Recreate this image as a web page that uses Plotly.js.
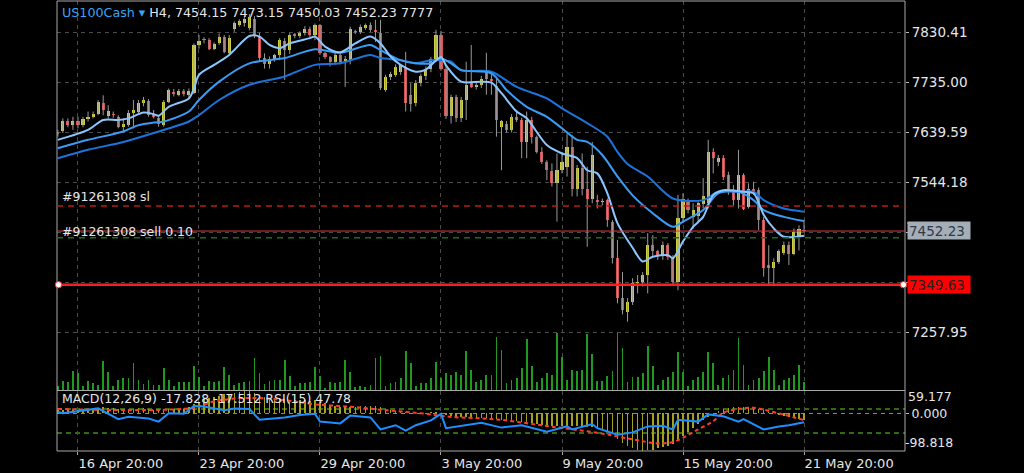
<!DOCTYPE html>
<html><head><meta charset="utf-8">
<script src="https://cdn.plot.ly/plotly-3.0.1.min.js"></script>
<style>html,body{margin:0;padding:0;background:#000;}#chart{width:1024px;height:473px;}</style>
</head><body><div id="chart"></div>
<script>
// ---------- DATA ----------
const symbol = 'US100Cash';
const timeframe = 'H4';
const opens = [7640,7642,7661,7654,7661,7654,7666,7670,7676,7697,7672,7675,7670,7651,7655,7678,7680,7696,7700,7675,
7668,7654,7698,7718,7712,7719,7712,7715,7807,7818,7816,7800,7810,7823,7791,7838,7846,7848,7840,7856,
7825,7782,7770,7781,7788,7814,7798,7826,7824,7829,7838,7826,7845,7791,7784,7775,7788,7776,7776,7834,
7832,7840,7845,7836,7830,7722,7745,7750,7756,7765,7712,7696,7735,7748,7762,7780,7826,7762,7672,7708,
7667,7702,7734,7727,7730,7756,7743,7728,7651,7657,7645,7670,7664,7622,7664,7632,7603,7584,7566,7543,
7568,7574,7613,7533,7572,7533,7514,7511,7508,7511,7470,7400,7324,7298,7317,7352,7355,7368,7425,7413,
7407,7425,7403,7355,7476,7508,7478,7480,7503,7505,7603,7584,7591,7559,7530,7511,7559,7498,7533,7530,
7473,7387,7382,7393,7411,7425,7409,7441,7454.15];
const highs = [7645,7667,7667,7670,7670,7670,7680,7680,7702,7711,7692,7680,7673,7667,7683,7702,7702,7708,7704,7683,
7673,7702,7724,7723,7723,7723,7724,7810,7826,7822,7820,7812,7829,7826,7826,7852,7856,7862,7866,7862,
7830,7791,7785,7790,7820,7820,7830,7830,7833,7843,7842,7848,7847,7794,7786,7792,7792,7786,7842,7836,
7846,7848,7850,7855,7855,7750,7756,7770,7770,7794,7734,7740,7752,7766,7784,7836,7834,7768,7712,7712,
7708,7775,7807,7735,7748,7792,7756,7745,7664,7662,7675,7683,7668,7680,7670,7634,7612,7587,7581,7600,
7603,7638,7635,7578,7600,7575,7622,7521,7514,7514,7473,7435,7374,7324,7362,7368,7374,7448,7444,7416,
7432,7429,7406,7521,7524,7514,7505,7508,7553,7626,7610,7597,7597,7565,7540,7607,7562,7543,7546,7535,
7479,7425,7400,7417,7432,7432,7457,7463,7473.15];
const lows = [7632,7639,7650,7645,7648,7650,7661,7667,7673,7673,7667,7668,7648,7642,7651,7648,7676,7690,7670,7667,
7651,7651,7696,7709,7709,7709,7706,7713,7800,7810,7797,7797,7807,7791,7788,7832,7842,7842,7835,7820,
7776,7762,7762,7775,7778,7740,7790,7820,7820,7825,7822,7816,7788,7780,7766,7770,7770,7727,7770,7828,
7828,7836,7832,7813,7721,7718,7740,7746,7750,7680,7680,7690,7728,7740,7755,7775,7758,7666,7657,7660,
7660,7664,7725,7722,7725,7712,7712,7632,7568,7640,7640,7660,7591,7591,7619,7600,7580,7549,7537,7470,
7562,7556,7518,7518,7520,7422,7505,7495,7501,7460,7390,7314,7293,7279,7311,7333,7346,7333,7403,7397,
7397,7397,7349,7339,7467,7486,7456,7467,7495,7495,7562,7576,7549,7521,7501,7495,7492,7495,7521,7454,
7365,7349,7349,7389,7406,7387,7406,7415,7450.03];
const closes = [7638,7661,7655,7662,7654,7666,7670,7675,7698,7683,7681,7673,7651,7657,7678,7683,7696,7702,7673,7670,
7656,7698,7721,7713,7719,7713,7719,7807,7815,7816,7800,7808,7823,7794,7821,7848,7852,7856,7860,7825,
7782,7770,7781,7788,7816,7798,7826,7825,7829,7838,7826,7845,7791,7785,7775,7788,7775,7780,7838,7832,
7842,7845,7836,7832,7724,7745,7752,7765,7768,7697,7694,7735,7748,7762,7780,7826,7762,7672,7708,7667,
7702,7731,7727,7730,7743,7743,7738,7664,7661,7645,7670,7664,7622,7664,7632,7603,7584,7568,7543,7568,
7584,7613,7533,7572,7533,7514,7597,7508,7510,7473,7400,7324,7301,7317,7352,7355,7368,7425,7413,7407,
7425,7403,7355,7476,7514,7492,7492,7505,7518,7603,7591,7591,7556,7533,7511,7559,7495,7533,7527,7473,
7381,7381,7393,7413,7425,7409,7451,7455,7452.23];
const volumes = [4000,8100,7200,17500,15900,3400,8100,6200,5000,27100,16500,3400,9400,10900,10900,25000,9700,5600,9700,5000,
4700,20300,9700,4100,7200,7200,7200,22200,11900,3400,8100,7200,8100,21200,14400,5000,6200,7200,8100,29600,
15900,5600,8100,9400,9400,28400,12800,3400,6200,6200,7200,21200,12800,1900,7200,6200,7200,28400,16500,2500,
3400,2500,4700,29600,31500,3400,6200,7200,10900,36500,25000,3400,6200,6200,10900,25900,10900,15600,14400,16500,
14400,36500,19000,7200,9700,14400,14400,49900,37800,6200,9700,10900,20300,47400,22500,7200,10900,15600,14400,53400,
30600,9700,19000,17500,19000,52100,33400,8100,8100,12800,17500,53400,39000,7200,11900,11900,15600,41500,22500,5000,
9700,11900,16500,35300,16500,3400,9700,11900,16500,35300,25000,5000,10900,14400,19000,48400,23700,4700,9700,10900,
17500,30600,19000,5000,9700,10900,14400,23700,7777];
const macdMain = [10,9,8,9,10,11,12,13,15,16,15,14,13,12,12,13,14,14,12,10,9,9,11,12,12,12,
16,24,31,37,41,44,47,50,51,54,57,59.177,58,
54,48,44,41,40,40,37,36,35,35,35,34,
35,31,27,23,20,18,17,17,18,19,20,21,21,
16,12,9,7,6,4,2,1,1,2,3,
4,0,-4,-7,-9,-10,-10,-10,-11,-11,-12,-13,
-14,-16,-17,-19,-20,-22,-24,-26,-28,-30,-31,-32,-33,-33,-33,-34,-34,-35,-36,-36,-37,-40,-46,-55,
-66,-77,-86,-92,-96,-98.818,-97,-95,-92,-89,-85,-80,-73,-60,
-48,-38,-28,-18,-8,0,6,11,15,17,18,18,17,15,12,
8,4,0,-3,-6,-9,-12,-15,-17.828];
const signalBars = [0,27,31,38,45,51,58,64,71,78,84,88,97,107,114,119,122,124,127,130,132,135,138,140,144,148];
const signalVals = [12,15,32,41,35,24,18,10,2,-9,-13,-17,-33,-51,-68,-79,-75,-64,-42,-20,2,12,15,10,-3,-17.512];
const rsiBars = [0,1,8,12,14,18,20,22,25,27,29,33,35,38,40,45,48,51,52,56,58,62,64,67,69,71,74,76,77,81,84,87,88,92,94,97,101,102,106,107,111,114,117,120,122,123,127,129,132,135,136,140,143,145,148];
const rsiVals = [65,63,71,53,57,54,49,63,62,75,74,68,71,70,52,56,60,62,49,46,59,56,36,43,34,43,51,62,38,43,47,41,39,43,39,32,41,36,45,38,27,31,41,42,36,52,49,61,58,49,53,36,41,43,47.78];
const maFastBars = [0,6,9,12,14,17,19,20,22,26,27,28,31,34,38,40,42,44,46,50,51,53,56,59,62,64,66,68,71,73,76,77,80,84,86,88,91,93,97,100,103,105,107,109,111,114,116,118,121,122,124,126,128,130,132,136,138,140,142,144,148];
const maFastVals = [7626,7645,7664,7664,7667,7678,7675,7672,7689,7705,7724,7750,7769,7788,7824,7823,7807,7801,7810,7820,7823,7804,7793,7810,7823,7810,7785,7769,7756,7760,7784,7768,7737,7737,7735,7715,7680,7667,7616,7600,7591,7568,7562,7524,7467,7420,7394,7403,7406,7400,7432,7460,7479,7521,7530,7527,7524,7483,7457,7441,7443];
const maMidBars = [0,6,13,16,19,21,26,28,32,38,45,51,56,62,64,68,71,74,76,78,80,86,89,93,97,100,103,105,108,111,114,118,122,124,128,131,135,138,140,144,148];
const maMidVals = [7610,7626,7642,7654,7659,7661,7680,7702,7737,7772,7782,7799,7792,7807,7797,7778,7772,7772,7781,7772,7759,7753,7721,7689,7670,7648,7626,7622,7597,7556,7520,7486,7460,7470,7492,7524,7527,7511,7492,7479,7471];
const maSlowBars = [0,6,13,19,26,28,32,38,45,51,56,62,64,68,71,74,76,78,80,86,91,97,100,105,109,111,113,117,122,128,131,135,138,140,144,148];
const maSlowVals = [7591,7607,7622,7639,7661,7673,7702,7731,7747,7769,7772,7788,7782,7778,7772,7778,7778,7775,7759,7756,7727,7705,7686,7658,7632,7603,7580,7556,7514,7511,7527,7527,7527,7511,7495,7489];
const tickBars = [4,28,52,76,100,124,148];
const tickLabels = ['16 Apr 20:00','23 Apr 20:00','29 Apr 20:00','3 May 20:00','9 May 20:00','15 May 20:00','21 May 20:00'];
const priceTicks = [7830.41,7735.00,7639.59,7544.18,7448.77,7353.36,7257.95];
const coveredTicks = [7448.77,7353.36];
const orderId = '#91261308';
const slPrice = 7500;
const orderPrice = 7452;
const greenLevel = 7439;
const bidPrice = 7452.23;
const lineLevel = 7349.63;
const macdMax = 59.177, macdMin = -98.818;
const rsiLevels = [70,30];
const rsiPeriod = 15;
const macdParams = [12,26,9];

// ---------- LAYOUT HELPERS ----------
const W = 1024, H = 473, ML = 57, MR = 119, MT = 1, MB = 22;
const PW = W - ML - MR, PH = H - MT - MB;
const px = x => (x - ML) / PW;
const py = y => (H - MB - y) / PH;
const FONT = 'DejaVu Sans, Liberation Sans, sans-serif';
const TXT = '#e6e6e6';
const GRID = '#4a4a4a';
const n = closes.length;
const idx = closes.map((_, i) => i);
const last = n - 1;

const bullCol = '#cfcf3e', bearCol = '#d65252';
const bodyBase = idx.map(i => Math.min(opens[i], closes[i]));
const bodyLen = idx.map(i => Math.max(Math.abs(closes[i] - opens[i]), 2));
const bodyCol = idx.map(i => closes[i] >= opens[i] ? bullCol : bearCol);

const traces = [
  { type:'bar', x: idx, y: volumes, yaxis:'y2', width:0.35, marker:{color:'#1f9a1f', line:{width:0}}, hoverinfo:'skip' },
  { type:'ohlc', x: idx, open: opens, high: highs, low: lows, close: closes, tickwidth:0,
    increasing:{line:{color:'#9a9a9a', width:1}}, decreasing:{line:{color:'#9a9a9a', width:1}}, hoverinfo:'skip' },
  { type:'bar', x: idx, base: bodyBase, y: bodyLen, width:0.62, marker:{color: bodyCol, line:{width:0}}, hoverinfo:'skip' },
  { type:'scatter', mode:'lines', x: maSlowBars, y: maSlowVals, line:{color:'#1b74dc', width:2, shape:'spline', smoothing:0.8}, hoverinfo:'skip' },
  { type:'scatter', mode:'lines', x: maMidBars, y: maMidVals, line:{color:'#3a9cf4', width:2, shape:'spline', smoothing:0.8}, hoverinfo:'skip' },
  { type:'scatter', mode:'lines', x: maFastBars, y: maFastVals, line:{color:'#8cc6ff', width:2, shape:'spline', smoothing:0.8}, hoverinfo:'skip' },
  { type:'bar', x: idx, y: macdMain, yaxis:'y3', width:0.3, marker:{color:'#a3a31e', line:{width:0}}, hoverinfo:'skip' },
  { type:'scatter', mode:'lines', x: signalBars, y: signalVals, yaxis:'y3', line:{color:'#ff3a2e', width:2, dash:'4px,3px', shape:'spline'}, hoverinfo:'skip' },
  { type:'scatter', mode:'lines', x: rsiBars, y: rsiVals, yaxis:'y4', line:{color:'#1e8fff', width:2}, hoverinfo:'skip' }
];

const mainTop = 1, mainBottom = 390, subTop = 391;
const layout = {
  width: W, height: H,
  margin: {l: ML, r: MR, t: MT, b: MB, pad: 0},
  paper_bgcolor: '#000', plot_bgcolor: '#000',
  showlegend: false, barmode: 'overlay', bargap: 0,
  font: {family: FONT, color: TXT, size: 13},
  xaxis: {
    range: [-0.159, 168.03], anchor: 'y3', domain: [0, 1],
    tickvals: tickBars, ticktext: tickLabels, ticklabelposition: 'outside right',
    ticks: 'outside', ticklen: 3, tickcolor: '#aaaaaa',
    tickfont: {family: FONT, size: 13, color: TXT},
    showgrid: true, gridcolor: GRID, griddash: '4px,4px', gridwidth: 1,
    zeroline: false, showline: false, rangeslider: {visible: false}, fixedrange: true
  },
  yaxis: {
    domain: [py(mainBottom), py(mainTop)], range: [7148.7, 7890.9], side: 'right', anchor: 'x',
    tickvals: priceTicks, ticktext: priceTicks.map(v => coveredTicks.includes(v) ? '' : v.toFixed(2)),
    ticks: 'outside', ticklen: 3, tickcolor: '#bbbbbb',
    tickfont: {family: FONT, size: 13.5, color: TXT},
    showgrid: true, gridcolor: GRID, griddash: '4px,4px', gridwidth: 1,
    zeroline: false, showline: false, fixedrange: true
  },
  yaxis2: { overlaying: 'y', range: [0, 364500], visible: false, fixedrange: true },
  yaxis3: {
    domain: [0, py(subTop)], range: [macdMin, macdMax], side: 'right', anchor: 'x',
    tickvals: [0], ticktext: ['0.000'], ticks: 'outside', ticklen: 3, tickcolor: '#bbbbbb',
    tickfont: {family: FONT, size: 12.5, color: TXT},
    showgrid: false, zeroline: false, showline: false, fixedrange: true
  },
  yaxis4: { overlaying: 'y3', range: [0, 100], visible: false, fixedrange: true },
  shapes: [
    {type:'rect', xref:'paper', yref:'paper', x0:0, x1:1, y0:0, y1:1, line:{color:'#a8a8a8', width:1}, layer:'above'},
    {type:'line', xref:'paper', yref:'paper', x0:0, x1:1, y0:py(390.5), y1:py(390.5), line:{color:'#a8a8a8', width:1}},
    {type:'line', xref:'paper', yref:'y3', x0:0, x1:1, y0:0, y1:0, line:{color:'#8c8c8c', width:1, dash:'4px,4px'}, layer:'below'},
    {type:'line', xref:'paper', yref:'y4', x0:0, x1:1, y0:rsiLevels[0], y1:rsiLevels[0], line:{color:'#3f8f17', width:1.3, dash:'5px,4px'}, layer:'below'},
    {type:'line', xref:'paper', yref:'y4', x0:0, x1:1, y0:rsiLevels[1], y1:rsiLevels[1], line:{color:'#3f8f17', width:1.3, dash:'5px,4px'}, layer:'below'},
    {type:'line', xref:'paper', yref:'y', x0:0, x1:1, y0:slPrice, y1:slPrice, line:{color:'#b81c1c', width:1.5, dash:'6px,5px'}},
    {type:'line', xref:'paper', yref:'y', x0:0, x1:1, y0:greenLevel, y1:greenLevel, line:{color:'#1c6e1c', width:1.5, dash:'6px,5px'}},
    {type:'line', xref:'paper', yref:'y', x0:0, x1:1, y0:orderPrice, y1:orderPrice, line:{color:'#e0393c', width:1}},
    {type:'line', xref:'paper', yref:'y', x0:0, x1:1, y0:lineLevel, y1:lineLevel, line:{color:'#ff1c1c', width:2.5}},
    {type:'circle', xref:'paper', yref:'y', xsizemode:'pixel', ysizemode:'pixel', xanchor:px(58.5), yanchor:lineLevel, x0:-3.2, x1:3.2, y0:-3.2, y1:3.2, fillcolor:'#ffffff', line:{color:'#ff2020', width:1}},
    {type:'circle', xref:'paper', yref:'y', xsizemode:'pixel', ysizemode:'pixel', xanchor:px(903.5), yanchor:lineLevel, x0:-3.2, x1:3.2, y0:-3.2, y1:3.2, fillcolor:'#ffffff', line:{color:'#ff2020', width:1}},
    {type:'line', xref:'paper', yref:'paper', x0:px(907), x1:px(969), y0:py(223.3), y1:py(223.3), line:{color:'#e0393c', width:1.5}}
  ],
  annotations: [
    {xref:'paper', yref:'paper', x:px(60), y:py(12), xanchor:'left', yanchor:'middle', showarrow:false,
     font:{family:FONT, size:12.7, color:TXT},
     text:'<span style="color:#3aa3f5">' + symbol + ' \u25BE</span> ' + timeframe + ', ' +
          opens[last].toFixed(2) + ' ' + highs[last].toFixed(2) + ' ' + lows[last].toFixed(2) + ' ' +
          closes[last].toFixed(2) + ' ' + volumes[last]},
    {xref:'paper', yref:'y', x:px(60), y:slPrice, xanchor:'left', yanchor:'bottom', showarrow:false,
     font:{family:FONT, size:12.5, color:TXT}, text: orderId + ' sl'},
    {xref:'paper', yref:'y', x:px(60), y:orderPrice, xanchor:'left', yanchor:'middle', showarrow:false,
     font:{family:FONT, size:12.5, color:TXT}, text: orderId + ' sell 0.10'},
    {xref:'paper', yref:'paper', x:px(60), y:py(398.5), xanchor:'left', yanchor:'middle', showarrow:false,
     font:{family:FONT, size:12.5, color:TXT},
     text:'MACD(' + macdParams.join(',') + ') ' + macdMain[last].toFixed(3) + ' ' + signalVals[signalVals.length-1].toFixed(3) +
          ' RSI(' + rsiPeriod + ') ' + rsiVals[rsiVals.length-1].toFixed(2)},
    {xref:'paper', yref:'y', x:px(907), y:bidPrice, xanchor:'left', yanchor:'middle', showarrow:false,
     width:60, height:15, align:'left', borderpad:1, bgcolor:'#a4aeb8',
     font:{family:FONT, size:13.5, color:'#2f3a46'}, text: bidPrice.toFixed(2)},
    {xref:'paper', yref:'y', x:px(907), y:lineLevel, xanchor:'left', yanchor:'middle', showarrow:false,
     width:60, height:15, align:'left', borderpad:1, bgcolor:'#ff0000',
     font:{family:FONT, size:13.5, color:'#222222'}, text: lineLevel.toFixed(2)},
    {xref:'paper', yref:'y3', x:px(907), y:macdMax, xanchor:'left', yanchor:'top', yshift:3, borderpad:0, showarrow:false,
     font:{family:FONT, size:12.5, color:TXT}, text: macdMax.toFixed(3)},
    {xref:'paper', yref:'y3', x:px(904), y:macdMin, xanchor:'left', yanchor:'bottom', borderpad:0, showarrow:false,
     font:{family:FONT, size:12.5, color:TXT}, text: macdMin.toFixed(3)}
  ]
};

Plotly.newPlot('chart', traces, layout, {staticPlot: true, displayModeBar: false});
</script>
</body></html>
